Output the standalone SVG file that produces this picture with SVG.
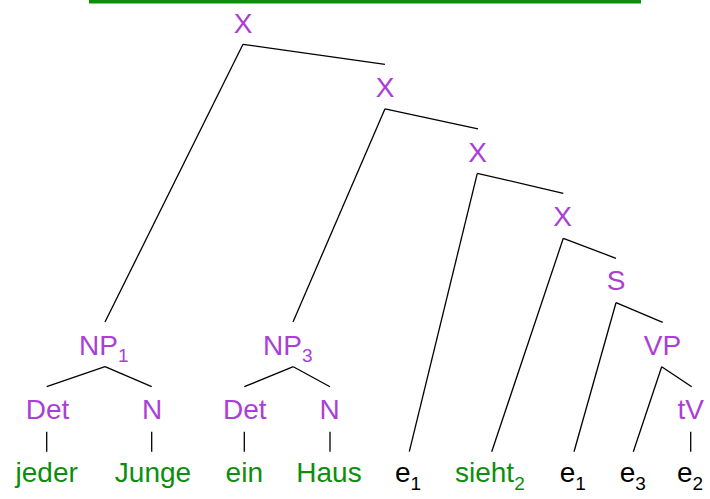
<svg xmlns="http://www.w3.org/2000/svg" width="710" height="499" viewBox="0 0 710 499">
<style>
.c{fill:#aa3fd5}
.g{fill:#0b8f0b}
.k{fill:#000}
text{font-family:"Liberation Sans",Arial,sans-serif;font-size:28px}
.m{text-anchor:middle}
.s{font-size:19px}
#edges line{stroke:#000;stroke-width:1.3;fill:none}
</style>
<rect x="89" y="0" width="552" height="3.5" fill="#0b8f0b"/>
<g id="edges">
<line x1="243" y1="44.3" x2="385" y2="64.3"/>
<line x1="243" y1="44.3" x2="105" y2="322"/>
<line x1="385" y1="108.8" x2="478" y2="128.8"/>
<line x1="385" y1="108.8" x2="293" y2="322"/>
<line x1="477.3" y1="173.3" x2="563.3" y2="193.3"/>
<line x1="477.3" y1="173.3" x2="409.3" y2="451.7"/>
<line x1="563.3" y1="238.3" x2="616" y2="258.3"/>
<line x1="563.3" y1="238.3" x2="491.7" y2="451.7"/>
<line x1="616" y1="302.7" x2="662.7" y2="322.3"/>
<line x1="616" y1="302.7" x2="574" y2="451.7"/>
<line x1="661.7" y1="366.7" x2="691.7" y2="386.7"/>
<line x1="661.7" y1="366.7" x2="633.3" y2="451.7"/>
<line x1="105" y1="366.7" x2="46.7" y2="386.7"/>
<line x1="105" y1="366.7" x2="151.7" y2="386.7"/>
<line x1="293.3" y1="366.7" x2="244.3" y2="386.7"/>
<line x1="293.3" y1="366.7" x2="330" y2="386.7"/>
<line x1="46.7" y1="431.7" x2="46.7" y2="451.7"/>
<line x1="151.7" y1="431.7" x2="151.7" y2="451.7"/>
<line x1="244.3" y1="431.7" x2="244.3" y2="451.7"/>
<line x1="330" y1="431.7" x2="330" y2="451.7"/>
<line x1="690.7" y1="431.7" x2="690.7" y2="451.7"/>
</g>
<g id="X1"><text class="c m" x="243" y="32.5">X</text></g>
<g id="X2"><text class="c m" x="385" y="97.2">X</text></g>
<g id="X3"><text class="c m" x="477.5" y="161.7">X</text></g>
<g id="X4"><text class="c m" x="562.5" y="226">X</text></g>
<g id="S"><text class="c m" x="616" y="290">S</text></g>
<g id="VP"><text class="c m" x="662.5" y="354.5">VP</text></g>
<g id="NP1"><text class="c" x="79" y="354.5">NP<tspan class="s" dy="7.5">1</tspan></text></g>
<g id="NP3"><text class="c" x="263" y="354.5">NP<tspan class="s" dy="7.5">3</tspan></text></g>
<g id="Det1"><text class="c m" x="47.5" y="419.3">Det</text></g>
<g id="N1"><text class="c m" x="152" y="419.3">N</text></g>
<g id="Det2"><text class="c m" x="244.7" y="419.3">Det</text></g>
<g id="N2"><text class="c m" x="329.5" y="419.3">N</text></g>
<g id="tV"><text class="c m" x="690.7" y="419.3">tV</text></g>
<g id="jeder"><text class="g m" x="46.7" y="481.7">jeder</text></g>
<g id="Junge"><text class="g m" x="153" y="481.7">Junge</text></g>
<g id="ein"><text class="g m" x="244.3" y="481.7">ein</text></g>
<g id="Haus"><text class="g m" x="329" y="481.7">Haus</text></g>
<g id="e1a"><text class="k" x="395" y="481.7">e<tspan class="s" dy="8">1</tspan></text></g>
<g id="sieht2"><text class="g" x="455" y="481.7">sieht<tspan class="s" dy="8">2</tspan></text></g>
<g id="e1b"><text class="k" x="559.7" y="481.7">e<tspan class="s" dy="8">1</tspan></text></g>
<g id="e3"><text class="k" x="619.7" y="481.7">e<tspan class="s" dy="8">3</tspan></text></g>
<g id="e2"><text class="k" x="677" y="481.7">e<tspan class="s" dy="8">2</tspan></text></g>
</svg>
